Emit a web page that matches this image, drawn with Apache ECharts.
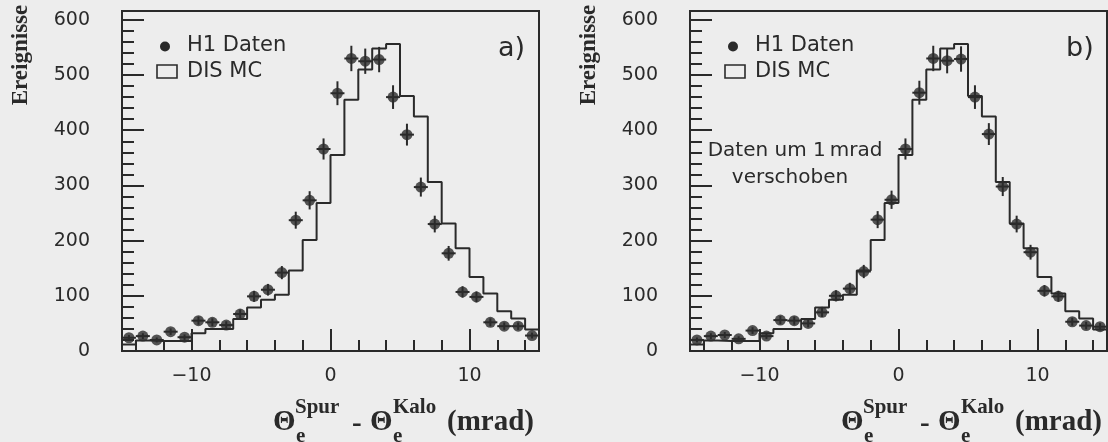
<!DOCTYPE html>
<html>
<head>
<meta charset="utf-8">
<script src="https://cdn.jsdelivr.net/npm/echarts@6/dist/echarts.min.js"></script>
<style>
html,body{margin:0;padding:0;background:#ededed;}
#chart{width:1108px;height:442px;}
</style>
</head>
<body>
<div id="chart"></div>
<script>
// ---- data ----
const binCenters = [-14.5,-13.5,-12.5,-11.5,-10.5,-9.5,-8.5,-7.5,-6.5,-5.5,-4.5,-3.5,-2.5,-1.5,-0.5,
                    0.5,1.5,2.5,3.5,4.5,5.5,6.5,7.5,8.5,9.5,10.5,11.5,12.5,13.5,14.5];
// H1 data, panel a (unshifted)
const dataA = [24,27,20,35,25,55,52,47,67,99,111,142,237,273,366,
               467,530,525,528,460,392,297,230,177,107,98,52,45,45,28];
// H1 data, panel b (shifted by 1 mrad)
const dataB = [20,27,29,22,37,27,56,55,50,70,100,113,144,238,274,
               366,468,530,526,529,460,393,298,230,179,109,99,53,46,44];
// DIS MC histogram (same in both panels)
const mcCounts = [12,19,18,18,18,32,40,40,58,79,93,102,146,201,268,
                  355,455,510,548,556,462,425,306,231,186,134,104,72,59,39];
const xMajorTicks = [-10,0,10];
const xMinorTicks = [-14,-12,-10,-8,-6,-4,-2,0,2,4,6,8,10,12,14];
const yLabels = [0,100,200,300,400,500,600];
const yMinorTicks = [20,40,60,80,120,140,160,180,220,240,260,280,320,340,360,380,420,440,460,480,520,540,560,580];

// ---- styling ----
const INK = '#2a2a2a';
const BG = '#ededed';
const PANEL_DX = 568;
const grids = [
  {left:122, top:11, width:417, height:340, show:true, borderColor:INK, borderWidth:2, backgroundColor:'transparent'},
  {left:122+PANEL_DX, top:11, width:417, height:340, show:true, borderColor:INK, borderWidth:2, backgroundColor:'transparent'}
];

function fmt(v){ return v < 0 ? '\u2212' + Math.abs(v) : String(v); }

const xAxes = [], yAxes = [];
[0,1].forEach(g => {
  xAxes.push({type:'value', gridIndex:g, min:-15, max:15, position:'bottom',
    axisLine:{show:false, onZero:false}, splitLine:{show:false},
    axisTick:{show:true, inside:true, length:22, customValues:xMajorTicks, lineStyle:{color:INK,width:2}},
    axisLabel:{show:true, customValues:xMajorTicks, margin:16, fontSize:19, color:INK, fontFamily:'DejaVu Sans', formatter:fmt}});
  xAxes.push({type:'value', gridIndex:g, min:-15, max:15, position:'bottom',
    axisLine:{show:false, onZero:false}, splitLine:{show:false},
    axisTick:{show:true, inside:true, length:11, customValues:xMinorTicks, lineStyle:{color:INK,width:2}},
    axisLabel:{show:false}});
  yAxes.push({type:'value', gridIndex:g, min:0, max:616, position:'left',
    axisLine:{show:false, onZero:false}, splitLine:{show:false},
    axisTick:{show:true, inside:true, length:22, customValues:yLabels.filter(v=>v>0), lineStyle:{color:INK,width:2}},
    axisLabel:{show:true, customValues:yLabels, margin:32, fontSize:19, color:INK, fontFamily:'DejaVu Sans'}});
  yAxes.push({type:'value', gridIndex:g, min:0, max:616, position:'left',
    axisLine:{show:false, onZero:false}, splitLine:{show:false},
    axisTick:{show:true, inside:true, length:12, customValues:yMinorTicks, lineStyle:{color:INK,width:2}},
    axisLabel:{show:false}});
});

function histData(){
  const pts = binCenters.map((c,i) => [c-0.5, mcCounts[i]]);
  pts.push([binCenters[binCenters.length-1]+0.5, mcCounts[mcCounts.length-1]]);
  return pts;
}

function errRender(params, api){
  const x = api.value(0), y = api.value(1), e = api.value(2);
  const top = api.coord([x, y+e]);
  const bot = api.coord([x, y-e]);
  const c = api.coord([x, y]);
  return {type:'group', children:[
    {type:'line', shape:{x1:top[0],y1:top[1],x2:bot[0],y2:bot[1]}, style:{stroke:INK,lineWidth:2}},
    {type:'line', shape:{x1:c[0]-7,y1:c[1],x2:c[0]+7,y2:c[1]}, style:{stroke:INK,lineWidth:2}}
  ]};
}

const series = [];
[[dataA,0],[dataB,1]].forEach(([vals,g]) => {
  const xi = g*2, yi = g*2;
  series.push({type:'line', name:'DIS MC', xAxisIndex:xi, yAxisIndex:yi, step:'end', data:histData(),
    showSymbol:false, symbol:'none', lineStyle:{color:INK,width:2}, z:2, animation:false});
  series.push({type:'custom', name:'err', xAxisIndex:xi, yAxisIndex:yi,
    data: binCenters.map((c,i) => [c, vals[i], Math.sqrt(vals[i])]),
    renderItem: errRender, z:3, animation:false, clip:true});
  series.push({type:'scatter', name:'H1 Daten', xAxisIndex:xi, yAxisIndex:yi,
    data: binCenters.map((c,i) => [c, vals[i]]),
    symbol:'circle', symbolSize:11, itemStyle:{color:INK}, z:4, animation:false});
});

function T(x, y, text, font, align, valign, rotation){
  return {type:'text', x:x, y:y, rotation: rotation||0, z:10,
    style:{text:text, font:font, fill:INK, align:align||'left', verticalAlign:valign||'middle'}};
}

const SERIF = '"Liberation Serif", "DejaVu Serif", serif';
const SANS = '"DejaVu Sans", sans-serif';
const graphics = [];
[0,1].forEach(p => {
  const dx = p*PANEL_DX;
  // y axis title
  graphics.push(T(21+dx, 55, 'Ereignisse', 'bold 23px '+SERIF, 'center', 'middle', Math.PI/2));
  // x axis title
  graphics.push(T(273+dx, 423, '\u0398', 'bold 29px '+SERIF));
  graphics.push(T(295+dx, 408, 'Spur', 'bold 21px '+SERIF));
  graphics.push(T(296+dx, 437, 'e', 'bold 21px '+SERIF));
  graphics.push(T(352+dx, 425, '-', 'bold 29px '+SERIF));
  graphics.push(T(370+dx, 423, '\u0398', 'bold 29px '+SERIF));
  graphics.push(T(393+dx, 408, 'Kalo', 'bold 21px '+SERIF));
  graphics.push(T(393+dx, 437, 'e', 'bold 21px '+SERIF));
  graphics.push(T(447+dx, 423, '(mrad)', 'bold 29px '+SERIF));
  // panel letter
  graphics.push(T(498+dx, 49, p===0 ? 'a)' : 'b)', '27px '+SANS));
  // legend
  graphics.push({type:'circle', shape:{cx:165+dx, cy:46.5, r:5}, style:{fill:INK}, z:10});
  graphics.push(T(187+dx, 46, 'H1 Daten', '21px '+SANS));
  graphics.push({type:'rect', shape:{x:157+dx, y:65, width:20, height:13}, style:{fill:'none', stroke:INK, lineWidth:1.6}, z:10});
  graphics.push(T(187+dx, 71.5, 'DIS MC', '21px '+SANS));
});
graphics.push(T(795, 151, 'Daten um 1\u2009mrad', '20px '+SANS, 'center'));
graphics.push(T(790, 178, 'verschoben', '20px '+SANS, 'center'));

const chart = echarts.init(document.getElementById('chart'), null, {renderer:'canvas'});
chart.setOption({
  backgroundColor: BG,
  animation: false,
  grid: grids,
  xAxis: xAxes,
  yAxis: yAxes,
  series: series,
  graphic: graphics
});
</script>
</body>
</html>
